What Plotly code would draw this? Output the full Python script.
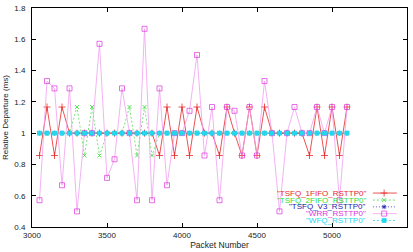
import plotly.graph_objects as go

packets = [3050, 3100, 3150, 3200, 3250, 3300, 3350, 3400, 3450, 3500,
           3550, 3600, 3650, 3700, 3750, 3800, 3850, 3900, 3950, 4000,
           4050, 4100, 4150, 4200, 4250, 4300, 4350, 4400, 4450, 4500,
           4550, 4600, 4650, 4700, 4750, 4800, 4850, 4900, 4950, 5000,
           5050, 5100]

tsfq_1fifo = [0.857, 1.167, 0.857, 1.167, 1, 1, 1, 1, 1, 1,
              1, 1, 1, 1, 1, 1, 0.857, 1.167, 0.857, 1.167,
              0.857, 1.167, 1, 1, 0.857, 1.167, 1, 0.857, 1.167, 0.857,
              1.167, 1, 1, 1, 1, 1, 0.857, 1.167, 0.857, 1.167,
              0.857, 1.167]

tsfq_2fifo = [1, 1, 1, 1, 1, 1.167, 0.857, 1.167, 0.857, 1,
              1, 1, 1.167, 0.857, 1.167, 0.857, 1, 1, 1, 1,
              1, 1, 1, 1, 1, 1, 1, 1, 1, 1,
              1, 1, 1, 1, 1, 1, 1, 1, 1, 1,
              1, 1]

tsfq_v3 = [1, 1, 1, 1, 1, 1, 1, 1, 1, 1,
           1, 1, 1, 1, 1, 1, 1, 1, 1, 1,
           1, 1, 1, 1, 1, 1, 1, 1, 1, 1,
           1, 1, 1, 1, 1, 1, 1, 1, 1, 1,
           1, 1]

wrr = [0.571, 1.333, 1.286, 0.667, 1.286, 0.5, 1, 1, 1.571, 0.714,
       0.833, 1.286, 1, 0.571, 1.667, 0.571, 1.286, 0.667, 1, 1,
       1.143, 1.5, 0.857, 1.167, 0.571, 1.167, 1.143, 0.857, 1.167, 0.857,
       1.333, 1, 0.5, 1, 1.167, 1, 1, 1.167, 1, 1.167,
       0.571, 1.167]

wfq = [1, 1, 1, 1, 1, 1, 1, 1, 1, 1,
       1, 1, 1, 1, 1, 1, 1, 1, 1, 1,
       1, 1, 1, 1, 1, 1, 1, 1, 1, 1,
       1, 1, 1, 1, 1, 1, 1, 1, 1, 1,
       1, 1]

series_names = ['"TSFQ_1FIFO_RSTTP0"', '"TSFQ_2FIFO_RSTTP0"', '"TSFQ_V3_RSTTP0"',
                '"WRR_RSTTP0"', '"WFQ_RSTTP0"']
series_values = [tsfq_1fifo, tsfq_2fifo, tsfq_v3, wrr, wfq]

colors = ["#e82828", "#33dd33", "#2222b0", "#e030e0", "#22d8ee"]
line_colors = ["#e84040", "#66e066", "#4444c0", "#f0a0f0", "#40d0e8"]
dashes = ["solid", "2px,2px", "1px,2px", "solid", "2px,2px"]
widths = [0.9, 0.9, 0.9, 0.8, 0.9]
symbols = ["cross-thin-open", "x-thin-open", "asterisk-open", "square-open", "square"]
msizes = [5, 4, 4, 5, 4]
mwidths = [0.8, 0.8, 0.8, 0.7, 0.8]

x_ticks = [3000, 3500, 4000, 4500, 5000, 5500]
y_ticks = [0.4, 0.6, 0.8, 1, 1.2, 1.4, 1.6, 1.8]

FONT = "Liberation Sans, Arial, sans-serif"

fig = go.Figure()
for name, vals, c, lc, d, w, s, ms, mw in zip(series_names, series_values, colors, line_colors,
                                              dashes, widths, symbols, msizes, mwidths):
    fig.add_trace(go.Scatter(
        x=packets, y=vals, mode="lines+markers", name=name, showlegend=False,
        line=dict(color=lc, width=w, dash=d),
        marker=dict(symbol=s, size=ms, color=c, line=dict(color=c, width=mw)),
    ))

# custom gnuplot-style key (text left, sample right)
key_rows = [0.155, 0.123, 0.092, 0.061, 0.030]
key_line = [0.909, 0.973]
key_mark = 0.939
for name, c, lc, d, w, s, ms, mw, ky in zip(series_names, colors, line_colors, dashes, widths,
                                            symbols, msizes, mwidths, key_rows):
    fig.add_trace(go.Scatter(
        x=key_line, y=[ky, ky], xaxis="x2", yaxis="y2", mode="lines",
        line=dict(color=lc, width=w, dash=d), showlegend=False, hoverinfo="skip"))
    fig.add_trace(go.Scatter(
        x=[key_mark], y=[ky], xaxis="x2", yaxis="y2", mode="markers",
        marker=dict(symbol=s, size=ms, color=c, line=dict(color=c, width=mw)),
        showlegend=False, hoverinfo="skip"))
    fig.add_annotation(text=name, xref="paper", yref="paper", x=0.897, y=ky,
                       xanchor="right", yanchor="middle", showarrow=False,
                       font=dict(family=FONT, size=8, color=c))

axis_common = dict(showline=True, linecolor="black", linewidth=1, mirror="ticks",
                   ticks="inside", ticklen=4, tickcolor="black", showgrid=False,
                   zeroline=False, tickfont=dict(family=FONT, size=8, color="#222"))

fig.update_layout(
    width=413, height=252,
    margin=dict(l=32, r=6, t=4, b=24),
    plot_bgcolor="white", paper_bgcolor="white",
    font=dict(family=FONT, size=8, color="#222"),
    xaxis=dict(range=[3000, 5500], tickvals=x_ticks, **axis_common,
               title=dict(text="Packet Number", font=dict(family=FONT, size=8.5, color="#222"), standoff=2)),
    yaxis=dict(range=[0.4, 1.8], tickvals=y_ticks, **axis_common, ticklabelstandoff=4,
               title=dict(text="Relative Departure (ms)", font=dict(family=FONT, size=8, color="#222"), standoff=4)),
    xaxis2=dict(range=[0, 1], overlaying="x", visible=False),
    yaxis2=dict(range=[0, 1], overlaying="y", visible=False),
)

fig.write_html("out.html")
